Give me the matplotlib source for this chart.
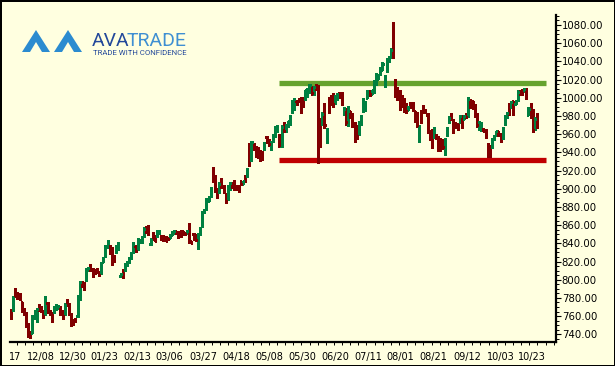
import numpy as np
import matplotlib
matplotlib.use('Agg')
import matplotlib.pyplot as plt
from matplotlib.patches import Polygon

# daily OHLC bars
opens = [766, 768, 789, 785, 784, 775, 768, 762, 750, 742,
         741, 758, 756, 772, 769, 765, 762, 774, 766, 763,
         764, 768, 769, 770, 765, 762, 778, 772, 762, 756,
         757, 760, 780, 798, 796, 800, 811, 816, 812, 811,
         812, 808, 807, 819, 826, 836, 837, 834, 825, 830,
         834, 804, 811, 811, 816, 819, 824, 830, 837, 834,
         841, 841, 848, 858, 857, 839, 851, 848, 848, 851,
         848, 848, 847, 846, 846, 849, 851, 853, 852, 853,
         853, 851, 851, 860, 842, 850, 849, 836, 850, 859,
         874, 878, 887, 892, 922, 913, 899, 896, 911, 903,
         894, 889, 900, 906, 909, 903, 903, 908, 905, 914,
         914, 948, 932, 949, 946, 945, 941, 940, 944, 957,
         954, 944, 952, 958, 963, 959, 947, 972, 963, 969,
         971, 984, 988, 997, 999, 1000, 1000, 999, 1002, 1006,
         1012, 1004, 1014, 1012, 976, 971, 992, 952, 999, 1002,
         1003, 994, 999, 1005, 1005, 982, 988, 970, 985, 982,
         972, 968, 960, 971, 985, 987, 1000, 1007, 1004, 1006,
         1015, 1021, 1026, 1031, 1013, 1029, 1040, 1045, 1075, 1020,
         1010, 1007, 1001, 998, 992, 987, 994, 994, 985, 982,
         952, 985, 991, 987, 981, 964, 964, 957, 959, 957,
         955, 954, 938, 959, 973, 982, 976, 972, 971, 973,
         980, 977, 982, 980, 998, 996, 992, 982, 966, 965,
         966, 965, 949, 947, 946, 955, 959, 963, 960, 956,
         971, 979, 993, 990, 996, 993, 998, 1007, 1008, 1007,
         1010, 981, 993, 987, 966, 982]
highs = [768, 782, 791, 786, 785, 776, 769, 764, 752, 744,
         761, 767, 769, 773, 771, 767, 782, 775, 767, 764,
         771, 773, 772, 771, 767, 774, 779, 774, 763, 757,
         758, 783, 799, 799, 797, 813, 814, 817, 813, 812,
         813, 809, 819, 825, 838, 844, 838, 836, 827, 838,
         841, 807, 812, 818, 821, 825, 830, 841, 838, 846,
         845, 848, 858, 859, 860, 846, 852, 849, 855, 855,
         849, 849, 848, 847, 850, 853, 855, 854, 853, 854,
         854, 852, 855, 862, 843, 851, 850, 851, 858, 875,
         878, 890, 892, 902, 924, 915, 901, 907, 912, 904,
         895, 904, 907, 907, 910, 904, 904, 909, 909, 915,
         923, 950, 953, 950, 947, 946, 943, 942, 951, 958,
         955, 952, 960, 969, 970, 960, 970, 973, 971, 975,
         981, 998, 1000, 998, 1000, 1001, 1001, 1009, 1011, 1015,
         1013, 1013, 1015, 1014, 978, 984, 994, 967, 1001, 1003,
         1005, 1003, 1005, 1006, 1006, 990, 989, 991, 986, 983,
         973, 970, 974, 981, 1000, 996, 1008, 1008, 1009, 1020,
         1027, 1026, 1034, 1039, 1025, 1044, 1046, 1055, 1083, 1021,
         1012, 1009, 1003, 1000, 994, 991, 995, 995, 986, 984,
         970, 986, 992, 988, 983, 965, 966, 968, 960, 958,
         956, 955, 956, 968, 980, 983, 977, 973, 972, 981,
         981, 981, 983, 1001, 999, 997, 993, 983, 974, 973,
         967, 966, 950, 948, 956, 959, 964, 964, 961, 968,
         981, 984, 994, 996, 997, 998, 1008, 1008, 1009, 1011,
         1011, 990, 994, 988, 979, 983]
lows = [757, 766, 781, 779, 778, 764, 761, 748, 737, 736,
        741, 757, 753, 766, 764, 758, 761, 763, 761, 753,
        763, 767, 768, 761, 757, 761, 771, 761, 749, 750,
        754, 759, 778, 792, 789, 799, 810, 810, 803, 806,
        808, 804, 806, 819, 825, 835, 828, 816, 819, 829,
        833, 803, 802, 810, 815, 818, 823, 829, 830, 833,
        840, 840, 847, 851, 849, 838, 844, 842, 847, 850,
        844, 843, 842, 844, 846, 849, 850, 850, 846, 847,
        849, 850, 850, 840, 840, 844, 843, 834, 849, 858,
        873, 877, 886, 891, 907, 896, 890, 895, 901, 895,
        884, 888, 899, 901, 899, 899, 896, 904, 905, 907,
        913, 925, 931, 943, 935, 934, 930, 932, 943, 950,
        947, 943, 951, 957, 962, 946, 946, 962, 962, 968,
        970, 983, 987, 992, 995, 983, 990, 998, 1001, 1005,
        1003, 1003, 1009, 928, 946, 970, 967, 950, 983, 992,
        990, 993, 998, 1000, 992, 981, 970, 969, 978, 968,
        951, 955, 959, 970, 984, 986, 1000, 1002, 1004, 1005,
        1014, 1021, 1025, 1030, 1012, 1028, 1039, 1044, 1044, 1001,
        998, 987, 990, 984, 983, 987, 989, 985, 973, 968,
        951, 972, 983, 983, 961, 954, 945, 956, 955, 941,
        942, 944, 937, 958, 972, 976, 961, 967, 965, 972,
        967, 977, 978, 979, 989, 988, 979, 968, 965, 964,
        963, 956, 935, 935, 945, 954, 958, 958, 951, 955,
        970, 978, 981, 990, 981, 993, 997, 1003, 1003, 1007,
        999, 981, 978, 962, 965, 967]
closes = [760, 780, 783, 781, 780, 767, 763, 750, 742, 738,
          758, 765, 768, 768, 766, 760, 778, 765, 762, 756,
          770, 772, 771, 763, 760, 772, 773, 763, 751, 752,
          755, 781, 797, 794, 791, 811, 813, 812, 806, 808,
          809, 805, 817, 824, 836, 842, 830, 820, 821, 836,
          839, 806, 804, 816, 820, 824, 829, 839, 832, 844,
          844, 847, 856, 853, 851, 844, 846, 843, 853, 854,
          845, 845, 843, 845, 849, 852, 854, 851, 848, 849,
          850, 850.5, 854, 842, 840.5, 846, 844, 849, 857, 873,
          877, 888, 891, 900, 910, 899, 893, 905, 903, 897,
          886, 902, 906, 902, 901, 900, 898, 905, 908, 909,
          921, 927, 951, 945, 938, 936, 933, 934, 950, 952,
          949, 951, 959, 967, 969, 948, 968, 964, 970, 974,
          980, 996, 999, 994, 996, 986, 992, 1008, 1010, 1014,
          1005, 1012, 1010, 968, 950, 982, 970, 965, 986, 995,
          993, 1001, 1004, 1002, 994, 988, 973, 985, 980, 971,
          955, 958, 972, 979, 998, 994, 1007, 1004, 1008, 1018,
          1025, 1025, 1033, 1037, 1023, 1042, 1045, 1053, 1045, 1012,
          1000, 990, 992, 986, 985, 990, 990, 987, 975, 970,
          968, 975, 985, 984, 963, 956, 948, 966, 956, 944,
          944, 946, 954, 966, 978, 978, 964, 968, 967, 980,
          969, 980, 979, 999, 991, 990, 981, 970, 972, 971,
          964, 958, 937, 936, 954, 958, 963, 960, 953, 966,
          980, 983, 983, 995, 983, 997, 1006, 1004, 1005, 1010,
          1000, 988, 980, 965, 977, 970]

# the first label is cut by the plot edge in the picture: only "17" shows
date_labels = ['17', '12/08', '12/30', '01/23', '02/13', '03/06', '03/27', '04/18', '05/08',
               '05/30', '06/20', '07/11', '08/01', '08/21', '09/12', '10/03', '10/23']
date_pos = [2.0, 13.7, 28.8, 43.3, 58.7, 73.5, 89.4, 105.1, 120.1,
            135.6, 151.2, 166.3, 181.5, 196.5, 212.4, 228.1, 242.7]

resistance = 1016
support = 932
level_start, level_end = 125, 249

BG = '#ffffe0'
UP = '#008040'
DOWN = '#800000'

fig = plt.figure(figsize=(6.15, 3.66), dpi=100)
fig.patch.set_facecolor(BG)
fig.patch.set_edgecolor('black')
fig.patch.set_linewidth(2)

ax = fig.add_axes([10 / 615, 24 / 366, 545.5 / 615, 327 / 366])
ax.set_facecolor(BG)

x = np.arange(len(closes))
o = np.array(opens)
c = np.array(closes)
cols = np.where(c > o, UP, DOWN)
ax.vlines(x, lows, highs, colors=cols, lw=0.75, antialiased=False, zorder=3)
ax.hlines(o, x - 0.5, x, colors=cols, lw=0.75, antialiased=False, zorder=3)
ax.hlines(c, x, x + 0.5, colors=cols, lw=0.75, antialiased=False, zorder=3)

ax.hlines([resistance], level_start, level_end, colors='#66a32e', lw=3.8, zorder=2)
ax.hlines([support], level_start, level_end, colors='#c00000', lw=3.8, zorder=2)

ax.set_xlim(-0.47, 253.6)
ax.set_ylim(731.5, 1091)

for s in ['left', 'top']:
    ax.spines[s].set_visible(False)
for s in ['bottom', 'right']:
    ax.spines[s].set_linewidth(1.6)
    ax.spines[s].set_color('black')

ax.yaxis.tick_right()
ax.set_yticks(np.arange(740, 1081, 20))
ax.set_yticks(np.arange(735, 1091, 5), minor=True)
ax.set_yticklabels([f'{v:.2f}' for v in np.arange(740, 1081, 20)])
ax.tick_params(axis='y', which='major', length=3.5, width=0.8, pad=1, labelsize=7.3, colors='black')
ax.tick_params(axis='y', which='minor', length=2, width=0.7)

ax.set_xticks(date_pos)
ax.set_xticklabels(date_labels)
ax.set_xticks(np.arange(2.6, 253, 3.79), minor=True)
ax.tick_params(axis='x', which='major', length=0, pad=7.5, labelsize=7.0)
ax.tick_params(axis='x', which='minor', length=2.5, width=0.7)

# logo
lg = fig.add_axes([0, 0, 1, 1], facecolor='none')
lg.set_xlim(0, 615)
lg.set_ylim(366, 0)
lg.axis('off')
for dx in (0, 32):
    pts = [(22 + dx, 52), (36 + dx, 30), (50 + dx, 52), (42 + dx, 52), (36 + dx, 42), (30 + dx, 52)]
    lg.add_patch(Polygon(pts, closed=True, facecolor='#2b8bd0', edgecolor='none'))
lg.text(92, 46, 'AVA', fontsize=14, family='Roboto', color='#23489a', va='baseline', ha='left')
lg.text(127, 46, 'TRADE', fontsize=14, family='Roboto', color='#3f8fd2', va='baseline', ha='left')
lg.text(93, 55, 'TRADE WITH CONFIDENCE', fontsize=5.6, family='Roboto', color='#23489a',
        va='baseline', ha='left')

fig.savefig('out.png', dpi=100, facecolor=BG, edgecolor='black')
